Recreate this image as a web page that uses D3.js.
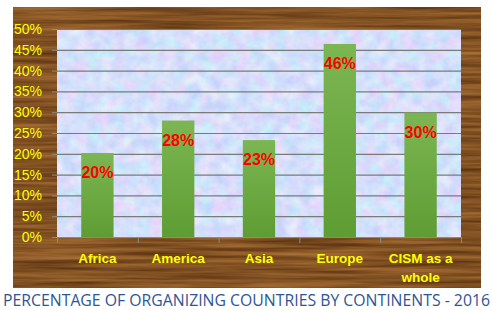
<!DOCTYPE html>
<html>
<head>
<meta charset="utf-8">
<script src="https://cdn.jsdelivr.net/npm/d3@7"></script>
<style>
  body { margin: 0; background: #fff; }
  svg { display: block; }
</style>
</head>
<body>
<svg id="chart" width="493" height="310"></svg>
<script>
// data
const continents = ["Africa", "America", "Asia", "Europe", "CISM as a whole"];
const shares = [20.2, 28, 23.3, 46.4, 29.9];
const shareLabels = ["20%", "28%", "23%", "46%", "30%"];
const yTicks = [0, 5, 10, 15, 20, 25, 30, 35, 40, 45, 50];
const titleText = "PERCENTAGE OF ORGANIZING COUNTRIES BY CONTINENTS - 2016";

const svg = d3.select("#chart"),
  frame = {left: 13, top: 7, right: 481, bottom: 288},
  plot = {left: 57, top: 29, right: 461, bottom: 237};

const defs = svg.append("defs");

// wood texture - long horizontal noise mapped onto browns
const wood = defs.append("filter").attr("id", "wood")
  .attr("color-interpolation-filters", "sRGB")
  .attr("x", 0).attr("y", 0).attr("width", 1).attr("height", 1);
wood.append("feTurbulence").attr("type", "fractalNoise")
  .attr("baseFrequency", "0.008 0.25").attr("numOctaves", 4).attr("seed", 7);
wood.append("feColorMatrix").attr("type", "matrix")
  .attr("values", "1 0 0 0 0  1 0 0 0 0  1 0 0 0 0  0 0 0 0 1");
const woodCt = wood.append("feComponentTransfer");
woodCt.append("feFuncR").attr("type", "table").attr("tableValues", "0.34 0.38 0.47 0.56 0.64 0.67");
woodCt.append("feFuncG").attr("type", "table").attr("tableValues", "0.19 0.22 0.29 0.36 0.42 0.44");
woodCt.append("feFuncB").attr("type", "table").attr("tableValues", "0.07 0.08 0.12 0.16 0.2 0.22");

// mottled blue / pink paper for the plot area
const paper = defs.append("filter").attr("id", "paper")
  .attr("color-interpolation-filters", "sRGB")
  .attr("x", 0).attr("y", 0).attr("width", 1).attr("height", 1);
paper.append("feTurbulence").attr("type", "fractalNoise")
  .attr("baseFrequency", "0.08").attr("numOctaves", 3).attr("seed", 3);
const paperCt = paper.append("feComponentTransfer");
paperCt.append("feFuncR").attr("type", "table").attr("tableValues", "0.76 0.76 0.81 0.87 0.92 0.92");
paperCt.append("feFuncG").attr("type", "table").attr("tableValues", "0.82 0.82 0.86 0.9 0.94 0.94");
paperCt.append("feFuncB").attr("type", "table").attr("tableValues", "0.96 0.98 0.99 1");
paperCt.append("feFuncA").attr("type", "table").attr("tableValues", "1 1");

// bar gradient
const grad = defs.append("linearGradient").attr("id", "barGrad")
  .attr("x1", 0).attr("y1", 0).attr("x2", 0).attr("y2", 1);
grad.append("stop").attr("offset", "0%").attr("stop-color", "#7cb653");
grad.append("stop").attr("offset", "100%").attr("stop-color", "#5e9d33");

svg.append("rect")
  .attr("x", frame.left).attr("y", frame.top)
  .attr("width", frame.right - frame.left).attr("height", frame.bottom - frame.top)
  .attr("fill", "#7a4c26")
  .attr("filter", "url(#wood)");

svg.append("rect")
  .attr("x", plot.left).attr("y", plot.top)
  .attr("width", plot.right - plot.left).attr("height", plot.bottom - plot.top)
  .attr("fill", "#d4dcf6")
  .attr("filter", "url(#paper)");

const x = d3.scaleBand().domain(continents).range([plot.left, plot.right]).paddingInner(0.6).paddingOuter(0.3);
const xBound = d3.scaleBand().domain(continents).range([plot.left, plot.right]);
const y = d3.scaleLinear().domain([0, 50]).range([plot.bottom, plot.top]);

// gridlines
svg.append("g")
  .selectAll("line")
  .data(yTicks.filter(t => t > 0))
  .enter()
  .append("line")
  .attr("x1", plot.left).attr("x2", plot.right)
  .attr("y1", d => y(d) + 0.5).attr("y2", d => y(d) + 0.5)
  .attr("stroke", "#7a7a7a")
  .attr("stroke-width", 1.2);

// y axis
const yAxis = d3.axisLeft(y).tickValues(yTicks).tickFormat(d => d + "%").tickSize(5).tickPadding(10);
const yg = svg.append("g")
  .attr("transform", `translate(${plot.left},0)`)
  .call(yAxis);
yg.select(".domain").remove();
yg.selectAll(".tick line").attr("stroke", "#8a8a8a");
yg.selectAll(".tick text")
  .attr("fill", "#ffff00")
  .attr("font-family", "Liberation Sans, Arial, sans-serif")
  .attr("font-size", "14px");

// bars
svg.append("g")
  .selectAll("rect")
  .data(shares)
  .enter()
  .append("rect")
  .attr("x", (d, i) => x(continents[i]))
  .attr("y", d => y(d))
  .attr("width", x.bandwidth())
  .attr("height", d => plot.bottom - y(d))
  .attr("fill", "url(#barGrad)");

// value labels
svg.append("g")
  .selectAll("text")
  .data(shares)
  .enter()
  .append("text")
  .attr("x", (d, i) => x(continents[i]) + x.bandwidth() / 2)
  .attr("y", d => y(d) + 25)
  .attr("text-anchor", "middle")
  .attr("fill", "#ff0000")
  .attr("font-family", "Liberation Sans, Arial, sans-serif")
  .attr("font-weight", "bold")
  .attr("font-size", "16px")
  .text((d, i) => shareLabels[i]);

// x axis line and boundary ticks
svg.append("line")
  .attr("x1", plot.left).attr("x2", plot.right)
  .attr("y1", plot.bottom + 0.5).attr("y2", plot.bottom + 0.5)
  .attr("stroke", "#8a8a8a");
const bounds = continents.map(c => xBound(c)).concat([plot.right]);
svg.append("g")
  .selectAll("line")
  .data(bounds)
  .enter()
  .append("line")
  .attr("x1", d => d + 0.5).attr("x2", d => d + 0.5)
  .attr("y1", plot.bottom).attr("y2", plot.bottom + 6)
  .attr("stroke", "#8a8a8a");

// category labels (wrap the long one)
const catWrap = {"CISM as a whole": ["CISM as a", "whole"]};
const xl = svg.append("g")
  .selectAll("text")
  .data(continents)
  .enter()
  .append("text")
  .attr("x", d => xBound(d) + xBound.bandwidth() / 2)
  .attr("y", 263)
  .attr("text-anchor", "middle")
  .attr("fill", "#ffff00")
  .attr("font-family", "Liberation Sans, Arial, sans-serif")
  .attr("font-weight", "bold")
  .attr("font-size", "13.5px");
xl.each(function(d) {
  const lines = catWrap[d] || [d];
  const t = d3.select(this);
  lines.forEach((ln, i) => {
    t.append("tspan")
      .attr("x", xBound(d) + xBound.bandwidth() / 2)
      .attr("dy", i === 0 ? 0 : 18.5)
      .text(ln);
  });
});

// title
svg.append("text")
  .attr("x", 3)
  .attr("y", 306)
  .attr("fill", "#2f5496")
  .attr("font-family", "Open Sans, Liberation Sans, sans-serif")
  .attr("font-size", "15.5px")
  .attr("textLength", 487)
  .attr("lengthAdjust", "spacingAndGlyphs")
  .text(titleText);
</script>
</body>
</html>
